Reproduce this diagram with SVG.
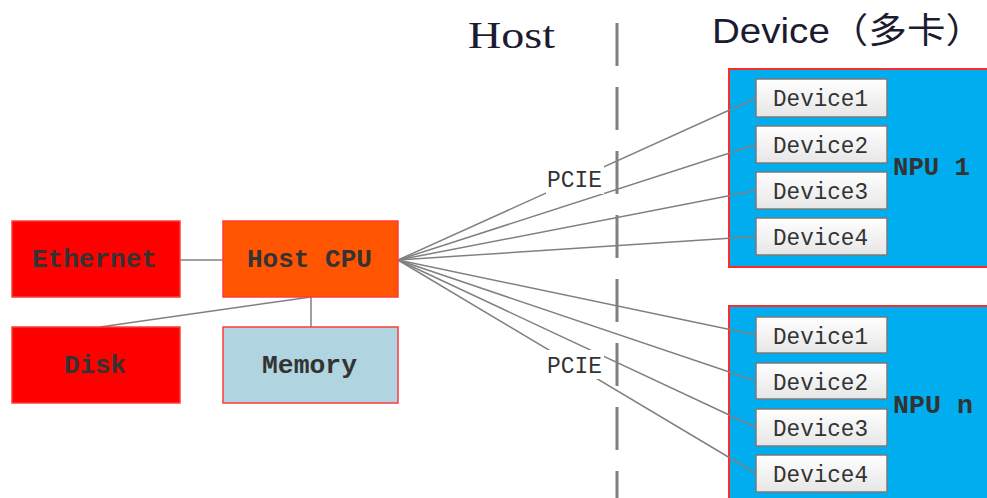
<svg xmlns="http://www.w3.org/2000/svg" width="987" height="498" viewBox="0 0 987 498">
  <defs>
    <linearGradient id="devFill" x1="0" y1="0" x2="0" y2="1">
      <stop offset="0" stop-color="#ffffff"/>
      <stop offset="1" stop-color="#e6e6e6"/>
    </linearGradient>
  </defs>
  <style>
    .hostbox { stroke: #ff3b3b; stroke-width: 1.5; }
    .npu { fill: #00adef; stroke: #ff2a2a; stroke-width: 2; }
    .dev { fill: url(#devFill); stroke: #7a7a7a; stroke-width: 1.5; }
    .bold { font-family: "Liberation Mono", "DejaVu Sans Mono", monospace; font-weight: bold; font-size: 25px; fill: #333333; }
    .mono { font-family: "Liberation Mono", "DejaVu Sans Mono", monospace; font-size: 24px; fill: #333333; }
    .link { stroke: #808080; stroke-width: 1.5; fill: none; }
  </style>

  <rect width="987" height="498" fill="#ffffff"/>

  <!-- headers -->
  <text x="468" y="48" font-family="'Liberation Serif', serif" font-size="37" fill="#1c1c30" textLength="87" lengthAdjust="spacingAndGlyphs">Host</text>
  <text x="712" y="43" font-family="'Liberation Sans', 'Noto Sans CJK SC', sans-serif" font-size="35" fill="#1c1c30" textLength="272" lengthAdjust="spacingAndGlyphs">Device（多卡）</text>

  <!-- NPU containers (drawn under the links) -->
  <g id="npu1">
    <rect class="npu" x="729" y="69" width="270" height="198"/>
    <text class="bold" x="893" y="175" textLength="77" lengthAdjust="spacingAndGlyphs">NPU 1</text>
  </g>
  <g id="npun">
    <rect class="npu" x="729" y="306" width="270" height="200"/>
    <text class="bold" x="893" y="413" textLength="80" lengthAdjust="spacingAndGlyphs">NPU n</text>
  </g>

  <!-- connectors -->
  <g id="connectors">
    <line class="link" x1="180" y1="260" x2="223" y2="260"/>
    <line class="link" x1="311" y1="297" x2="311" y2="327"/>
    <line class="link" x1="311" y1="297" x2="100" y2="327"/>
    <line class="link" x1="398" y1="260" x2="756" y2="98"/>
    <line class="link" x1="398" y1="260" x2="756" y2="144.5"/>
    <line class="link" x1="398" y1="260" x2="756" y2="190.5"/>
    <line class="link" x1="398" y1="260" x2="756" y2="236.5"/>
    <line class="link" x1="398" y1="260" x2="756" y2="335"/>
    <line class="link" x1="398" y1="260" x2="756" y2="381"/>
    <line class="link" x1="398" y1="260" x2="756" y2="427.5"/>
    <line class="link" x1="398" y1="260" x2="756" y2="473.5"/>
    <!-- link labels -->
    <rect x="546" y="164" width="58" height="30" fill="#ffffff"/>
    <text class="mono" x="547" y="187" textLength="55" lengthAdjust="spacingAndGlyphs">PCIE</text>
    <rect x="546" y="350" width="58" height="29" fill="#ffffff"/>
    <text class="mono" x="547" y="373" textLength="55" lengthAdjust="spacingAndGlyphs">PCIE</text>
  </g>

  <!-- host / device boundary -->
  <line x1="617" y1="23" x2="617" y2="498" stroke="#808080" stroke-width="3" stroke-dasharray="43 21"/>

  <!-- host side -->
  <g id="ethernet">
    <rect class="hostbox" x="12" y="221" width="168" height="76" fill="#ff0000"/>
    <text class="bold" x="32" y="267" textLength="125" lengthAdjust="spacingAndGlyphs">Ethernet</text>
  </g>
  <g id="hostcpu">
    <rect class="hostbox" x="223" y="221" width="175" height="76" fill="#ff5500"/>
    <text class="bold" x="247" y="267" textLength="125" lengthAdjust="spacingAndGlyphs">Host CPU</text>
  </g>
  <g id="disk">
    <rect class="hostbox" x="12" y="327" width="168" height="76" fill="#ff0000"/>
    <text class="bold" x="64" y="373" textLength="62" lengthAdjust="spacingAndGlyphs">Disk</text>
  </g>
  <g id="memory">
    <rect class="hostbox" x="223" y="327" width="175" height="76" fill="#b0d4e0"/>
    <text class="bold" x="262" y="373" textLength="95" lengthAdjust="spacingAndGlyphs">Memory</text>
  </g>

  <!-- devices of NPU 1 -->
  <g id="npu1-dev1"><rect class="dev" x="756" y="79" width="131" height="38"/><text class="mono" x="773" y="105.5" textLength="95" lengthAdjust="spacingAndGlyphs">Device1</text></g>
  <g id="npu1-dev2"><rect class="dev" x="756" y="126" width="131" height="37"/><text class="mono" x="773" y="152.5" textLength="95" lengthAdjust="spacingAndGlyphs">Device2</text></g>
  <g id="npu1-dev3"><rect class="dev" x="756" y="172" width="131" height="37"/><text class="mono" x="773" y="198.5" textLength="95" lengthAdjust="spacingAndGlyphs">Device3</text></g>
  <g id="npu1-dev4"><rect class="dev" x="756" y="218" width="131" height="37"/><text class="mono" x="773" y="244.5" textLength="95" lengthAdjust="spacingAndGlyphs">Device4</text></g>

  <!-- devices of NPU n -->
  <g id="npun-dev1"><rect class="dev" x="756" y="317" width="131" height="36"/><text class="mono" x="773" y="343.5" textLength="95" lengthAdjust="spacingAndGlyphs">Device1</text></g>
  <g id="npun-dev2"><rect class="dev" x="756" y="363" width="131" height="36"/><text class="mono" x="773" y="389.5" textLength="95" lengthAdjust="spacingAndGlyphs">Device2</text></g>
  <g id="npun-dev3"><rect class="dev" x="756" y="409" width="131" height="37"/><text class="mono" x="773" y="435.5" textLength="95" lengthAdjust="spacingAndGlyphs">Device3</text></g>
  <g id="npun-dev4"><rect class="dev" x="756" y="455" width="131" height="37"/><text class="mono" x="773" y="481.5" textLength="95" lengthAdjust="spacingAndGlyphs">Device4</text></g>
</svg>
